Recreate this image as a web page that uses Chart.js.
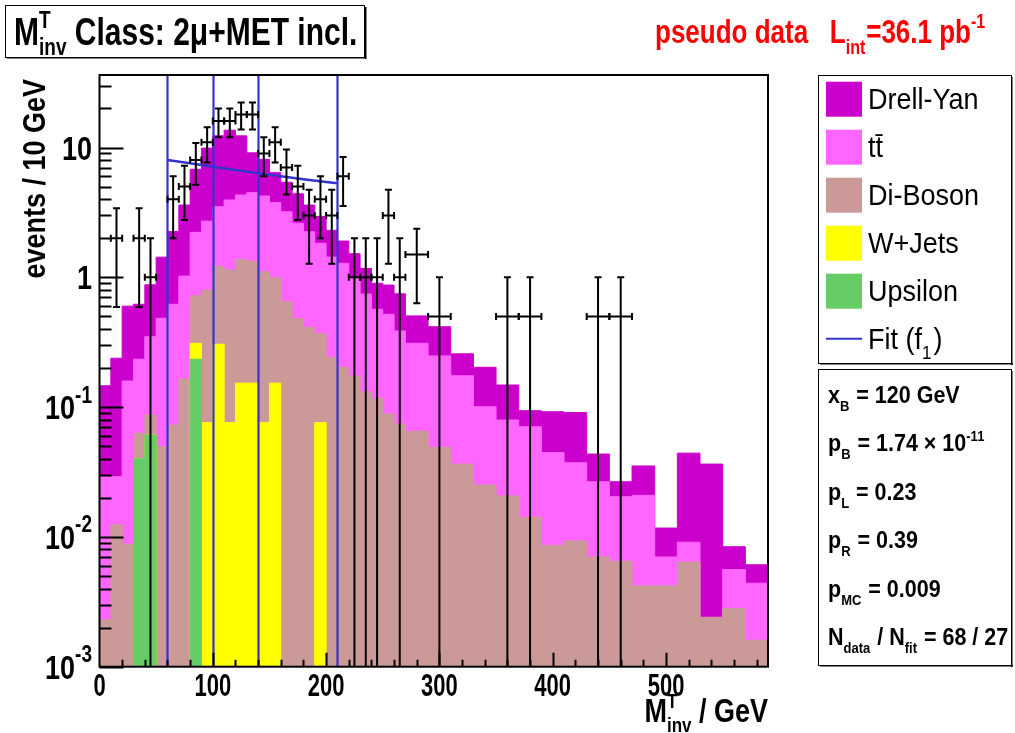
<!DOCTYPE html>
<html lang="en">
<head>
  <meta charset="UTF-8">
  <title>M_inv^T Class: 2mu+MET incl.</title>
  <script src="https://cdn.jsdelivr.net/npm/chart.js"></script>
  <style>
    body { margin: 0; background: #fff; }
    canvas { display: block; }
  </style>
</head>
<body>
  <canvas id="minvChart" width="1015" height="733"></canvas>

  <script>
    // histogram bins (GeV): 10 GeV wide up to 270, 20 GeV wide above
    const binEdges = [0, 10, 20, 30, 40, 50, 60, 70, 80, 90, 100, 110, 120, 130, 140, 150, 160, 170, 180, 190,
      200, 210, 220, 230, 240, 250, 260, 270, 290, 310, 330, 350, 370, 390, 410, 430, 450, 470, 490, 510,
      530, 550, 570, 590];

    // MC processes, events / 10 GeV
    const upsilon = [0, 0, 0, 0.040, 0.061, 0, 0, 0, 0.234, 0, 0, 0, 0, 0, 0, 0, 0, 0, 0, 0,
      0, 0, 0, 0, 0, 0, 0, 0, 0, 0, 0, 0, 0, 0, 0, 0, 0, 0, 0, 0, 0, 0, 0];
    const wJets = [0, 0, 0, 0, 0, 0, 0, 0, 0.076, 0.076, 0.305, 0.076, 0.153, 0.153, 0.076, 0.153, 0, 0, 0, 0.076,
      0, 0, 0, 0, 0, 0, 0, 0, 0, 0, 0, 0, 0, 0, 0, 0, 0, 0, 0, 0, 0, 0, 0];
    const diBoson = [0.0023, 0.0124, 0.0088, 0.0231, 0.0258, 0.0495, 0.0728, 0.164, 0.41, 0.722, 0.915, 1.064, 1.223,
      1.177, 1.028, 0.84, 0.649, 0.48, 0.412, 0.292, 0.242, 0.203, 0.174, 0.131, 0.117, 0.0885, 0.0741, 0.0651,
      0.049, 0.0364, 0.0251, 0.0207, 0.0142, 0.0086, 0.0093, 0.0070, 0.0065, 0.0042, 0.0042, 0.0064, 0.0024,
      0.0028, 0.0016];
    const ttbar = [0.0268, 0.0167, 0.150, 0.171, 0.262, 0.434, 0.547, 0.859, 1.50, 1.91, 2.28, 2.80, 2.93, 3.16,
      3.13, 2.77, 2.55, 2.13, 1.83, 1.46, 1.19, 1.08, 0.806, 0.612, 0.45, 0.43, 0.312, 0.245, 0.199, 0.138,
      0.0756, 0.0589, 0.0564, 0.036, 0.028, 0.0196, 0.0139, 0.0167, 0.0028, 0.0027, 0, 0.0028, 0.0028];
    const drellYan = [0.117, 0.209, 0.441, 0.386, 0.526, 0.947, 1.63, 2.58, 4.58, 7.19, 8.8, 9.66, 7.99, 4.61,
      3.87, 2.64, 2.2, 1.79, 1.36, 1.12, 0.87, 0.62, 0.54, 0.427, 0.333, 0.353, 0.36, 0.194, 0.168, 0.083,
      0.102, 0.0684, 0.0232, 0.0475, 0.0534, 0.0169, 0.0062, 0.0143, 0.0047, 0.0351, 0.034, 0.0028, 0.0017];

    // pseudo data with errors
    const dataX = [15, 35, 45, 65, 75, 85, 95, 105, 115, 125, 135, 145, 155, 165, 175, 185, 195, 205, 215, 225,
      235, 245, 255, 265, 280, 300, 360, 380, 440, 460];
    const dataXErr = [5, 5, 5, 5, 5, 5, 5, 5, 5, 5, 5, 5, 5, 5, 5, 5, 5, 5, 5, 5, 5, 5, 5, 5, 10, 10, 10, 10, 10, 10];
    const dataY = [2, 2, 1, 4, 5, 8, 11, 16, 16, 18, 18, 9, 11, 7, 5, 3, 4, 3, 6, 1, 1, 1, 3, 1, 1.5, 0.5, 0.5, 0.5, 0.5, 0.5];
    const dataYErr = [1.41, 1.41, 1, 2, 2.24, 2.83, 3.32, 4, 4, 4.24, 4.24, 3, 3.32, 2.65, 2.24, 1.73, 2, 1.73, 2.45,
      1, 1, 1, 1.73, 1, 0.87, 0.5, 0.5, 0.5, 0.5, 0.5];

    // fit f1 and the region borders
    const fitX = [60, 80, 100, 120, 140, 160, 180, 200, 210];
    const fitY = [8.0, 7.55, 7.1, 6.72, 6.35, 6.0, 5.7, 5.42, 5.3];
    const regionLines = [60, 100, 140, 210];

    const xMajorTicks = [0, 100, 200, 300, 400, 500];
    const yDecades = [-3, -2, -1, 0, 1];

    const colors = {
      drellYan: '#cc00cc',
      ttbar: '#ff66ff',
      diBoson: '#cc9999',
      wJets: '#ffff00',
      upsilon: '#66cc66',
      fit: '#3434cc'
    };

    const FONT = '"Liberation Sans", Arial, Helvetica, sans-serif';

    function addUp(a, b) {
      return a.map((v, i) => v + b[i]);
    }

    // step points: value of bin i runs from edge i to edge i+1.
    // the log axis drops zeros, so empty bins are pushed far below the axis instead
    function stepPoints(values) {
      const floor = v => (v > 0 ? v : 1e-9);
      const pts = values.map((v, i) => ({ x: binEdges[i], y: floor(v) }));
      pts.push({ x: binEdges[values.length], y: floor(values[values.length - 1]) });
      return pts;
    }

    const stackU = upsilon;
    const stackW = addUp(stackU, wJets);
    const stackD = addUp(stackW, diBoson);
    const stackT = addUp(stackD, ttbar);
    const stackY = addUp(stackT, drellYan);

    function histDataset(label, values, color, order) {
      return {
        label: label,
        data: stepPoints(values),
        stepped: true,
        fill: 'start',
        backgroundColor: color,
        borderColor: color,
        borderWidth: 1,
        pointRadius: 0,
        order: order
      };
    }

    // text with optional super/subscripts, stretched like the original picture
    function richText(ctx, parts, x, y, o) {
      ctx.save();
      ctx.translate(x, y);
      if (o.rotate) ctx.rotate(o.rotate);
      ctx.scale(o.sx || 1, o.sy || 1);
      ctx.fillStyle = o.color || '#000';
      ctx.textBaseline = 'alphabetic';
      ctx.textAlign = 'left';
      const w = o.bold ? 'bold ' : '';
      const big = w + o.size + 'px ' + FONT;
      const small = w + Math.round(o.size * (o.smallRatio || 0.62)) + 'px ' + FONT;
      const up = o.size * (o.supShift || 0.45);
      const down = o.size * (o.subShift || 0.28);
      const widthOf = p => {
        if (typeof p === 'string') { ctx.font = big; return ctx.measureText(p).width; }
        ctx.font = small;
        return Math.max(p.sup ? ctx.measureText(p.sup).width : 0, p.sub ? ctx.measureText(p.sub).width : 0) + (p.pad || 0);
      };
      let total = 0;
      parts.forEach(p => { total += widthOf(p); });
      let cx = o.align === 'right' ? -total : (o.align === 'center' ? -total / 2 : 0);
      parts.forEach(p => {
        const pw = widthOf(p);
        if (typeof p === 'string') {
          ctx.font = big;
          ctx.fillText(p, cx, 0);
        } else {
          ctx.font = small;
          if (p.sup) ctx.fillText(p.sup, cx, -up);
          if (p.sub) ctx.fillText(p.sub, cx, down);
        }
        cx += pw;
      });
      ctx.restore();
    }

    const rootStyle = {
      id: 'rootStyle',
      afterDatasetsDraw(chart) {
        const ctx = chart.ctx;
        const xs = chart.scales.x;
        const ys = chart.scales.y;
        const a = chart.chartArea;

        ctx.save();
        // region borders
        ctx.strokeStyle = colors.fit;
        ctx.lineWidth = 2.2;
        regionLines.forEach(v => {
          const px = Math.round(xs.getPixelForValue(v)) + 0.5;
          ctx.beginPath();
          ctx.moveTo(px, a.top);
          ctx.lineTo(px, a.bottom);
          ctx.stroke();
        });

        // data points with error bars
        ctx.strokeStyle = '#000';
        ctx.lineWidth = 2;
        const cap = 3.5;
        dataX.forEach((xv, i) => {
          const cx = xs.getPixelForValue(xv);
          const cy = ys.getPixelForValue(dataY[i]);
          const xl = xs.getPixelForValue(xv - dataXErr[i]);
          const xr = xs.getPixelForValue(xv + dataXErr[i]);
          const hi = dataY[i] + dataYErr[i];
          const lo = dataY[i] - dataYErr[i];
          const yt = ys.getPixelForValue(hi);
          const yb = lo > ys.min ? ys.getPixelForValue(lo) : a.bottom;
          ctx.beginPath();
          ctx.moveTo(xl, cy); ctx.lineTo(xr, cy);
          ctx.moveTo(cx, yt); ctx.lineTo(cx, yb);
          ctx.moveTo(xl, cy - cap); ctx.lineTo(xl, cy + cap);
          ctx.moveTo(xr, cy - cap); ctx.lineTo(xr, cy + cap);
          ctx.moveTo(cx - cap, yt); ctx.lineTo(cx + cap, yt);
          if (lo > ys.min) { ctx.moveTo(cx - cap, yb); ctx.lineTo(cx + cap, yb); }
          ctx.stroke();
        });
        ctx.restore();
      },
      afterDraw(chart) {
        const ctx = chart.ctx;
        const xs = chart.scales.x;
        const ys = chart.scales.y;
        const a = chart.chartArea;
        ctx.save();

        // frame
        ctx.strokeStyle = '#000';
        ctx.lineWidth = 2;
        ctx.strokeRect(a.left, a.top, a.right - a.left, a.bottom - a.top);

        // y ticks (log)
        ctx.beginPath();
        yDecades.forEach(k => {
          for (let m = 1; m <= 9; m++) {
            const v = m * Math.pow(10, k);
            if (v > ys.max) break;
            const py = Math.round(ys.getPixelForValue(v)) + 0.5;
            ctx.moveTo(a.left, py);
            ctx.lineTo(a.left + (m === 1 ? 24 : 12), py);
          }
        });
        // x ticks every 20 GeV, major every 100
        for (let v = 20; v < xs.max; v += 20) {
          const px = Math.round(xs.getPixelForValue(v)) + 0.5;
          ctx.moveTo(px, a.bottom);
          ctx.lineTo(px, a.bottom - (v % 100 === 0 ? 14 : 7));
        }
        ctx.stroke();

        // tick labels
        const tick = { size: 22, bold: true, sx: 1, sy: 1.45 };
        xMajorTicks.forEach(v => {
          richText(ctx, [String(v)], xs.getPixelForValue(v), 696, Object.assign({ align: 'center' }, tick));
        });
        const ytick = { size: 27, bold: true, sx: 1, sy: 1.22, align: 'right', supShift: 0.5, smallRatio: 0.72 };
        yDecades.forEach(k => {
          const py = ys.getPixelForValue(Math.pow(10, k));
          const parts = k === 0 ? ['1'] : (k === 1 ? ['10'] : ['10', { sup: String(k) }]);
          richText(ctx, parts, 92, py + 12, ytick);
        });

        // axis titles
        richText(ctx, ['events / 10 GeV'], 45, a.top + 4, { size: 27, bold: true, sx: 1, sy: 1.18, rotate: -Math.PI / 2, align: 'right' });
        richText(ctx, ['M', { sup: 'T', sub: 'inv' }, ' / GeV'], a.right, 722, { size: 27, bold: true, sx: 1, sy: 1.22, align: 'right', subShift: 0.3, supShift: 0.42 });

        // title box
        ctx.lineWidth = 1;
        ctx.strokeStyle = '#000';
        ctx.fillStyle = '#000';
        ctx.strokeRect(5.5, 5.5, 359, 52);
        ctx.fillRect(365, 7, 1.5, 52);
        ctx.fillRect(7, 57, 359, 1.5);
        richText(ctx, ['M', { sup: 'T', sub: 'inv' }, ' Class: 2\u03bc+MET incl.'], 14, 45, { size: 30, bold: true, sx: 1, sy: 1.28, subShift: 0.26 });

        // luminosity label
        richText(ctx, ['pseudo data   L', { sub: 'int', pad: 1 }, '=36.1 pb', { sup: '-1' }], 655, 43,
          { size: 26, bold: true, sx: 1, sy: 1.25, color: '#ff0000', subShift: 0.35 });

        // legend
        ctx.lineWidth = 1;
        ctx.strokeRect(818.5, 75.5, 193, 288);
        ctx.fillRect(1011, 77, 1.5, 288);
        ctx.fillRect(820, 363, 193, 1.5);
        const legendRows = [
          ['Drell-Yan', colors.drellYan],
          ['t\u0074\u0304', colors.ttbar],
          ['Di-Boson', colors.diBoson],
          ['W+Jets', colors.wJets],
          ['Upsilon', colors.upsilon]
        ];
        legendRows.forEach((r, i) => {
          const cy = 99.2 + i * 48;
          ctx.fillStyle = r[1];
          ctx.fillRect(826, cy - 17.5, 36, 35);
          richText(ctx, [r[0]], 868, cy + 10, { size: 27, sx: 1, sy: 1.1 });
        });
        ctx.strokeStyle = colors.fit;
        ctx.lineWidth = 2;
        ctx.beginPath();
        ctx.moveTo(826, 338.7);
        ctx.lineTo(862, 338.7);
        ctx.stroke();
        richText(ctx, ['Fit (f', { sub: '1', pad: 2 }, ')'], 868, 349, { size: 27, sx: 1, sy: 1.1, subShift: 0.32 });

        // statistics box
        ctx.strokeStyle = '#000';
        ctx.fillStyle = '#000';
        ctx.lineWidth = 1;
        ctx.strokeRect(818.5, 369.5, 193, 296);
        ctx.fillRect(1011, 371, 1.5, 296);
        ctx.fillRect(820, 665, 193, 1.5);
        const st = { size: 21.5, bold: true, sx: 1, sy: 1.08, subShift: 0.35 };
        richText(ctx, ['x', { sub: 'B', pad: 1 }, ' = 120 GeV'], 828, 403, st);
        richText(ctx, ['p', { sub: 'B', pad: 1 }, ' = 1.74 \u00d7 10', { sup: '-11' }], 828, 451, st);
        richText(ctx, ['p', { sub: 'L', pad: 1 }, ' = 0.23'], 828, 500, st);
        richText(ctx, ['p', { sub: 'R', pad: 1 }, ' = 0.39'], 828, 548, st);
        richText(ctx, ['p', { sub: 'MC', pad: 1 }, ' = 0.009'], 828, 597, st);
        richText(ctx, ['N', { sub: 'data', pad: 1 }, ' / N', { sub: 'fit', pad: 1 }, ' = 68 / 27'], 828, 645, st);

        ctx.restore();
      }
    };

    const ctx = document.getElementById('minvChart').getContext('2d');

    new Chart(ctx, {
      type: 'line',
      data: {
        datasets: [
          histDataset('Drell-Yan', stackY, colors.drellYan, 10),
          histDataset('tt', stackT, colors.ttbar, 9),
          histDataset('Di-Boson', stackD, colors.diBoson, 8),
          histDataset('W+Jets', stackW, colors.wJets, 7),
          histDataset('Upsilon', stackU, colors.upsilon, 6),
          {
            label: 'Fit (f1)',
            data: fitX.map((x, i) => ({ x: x, y: fitY[i] })),
            borderColor: colors.fit,
            borderWidth: 2.5,
            pointRadius: 0,
            fill: false,
            order: 2
          },
          {
            label: 'pseudo data',
            data: dataX.map((x, i) => ({ x: x, y: dataY[i] })),
            showLine: false,
            pointRadius: 0,
            order: 1
          }
        ]
      },
      options: {
        responsive: false,
        animation: false,
        devicePixelRatio: 1,
        layout: { padding: { left: 99.5, right: 247, top: 75, bottom: 66.3 } },
        scales: {
          x: { type: 'linear', min: 0, max: 590, display: false },
          y: { type: 'logarithmic', min: 0.001, max: 36.2, display: false }
        },
        plugins: {
          legend: { display: false },
          tooltip: { enabled: false }
        }
      },
      plugins: [rootStyle]
    });
  </script>
</body>
</html>
